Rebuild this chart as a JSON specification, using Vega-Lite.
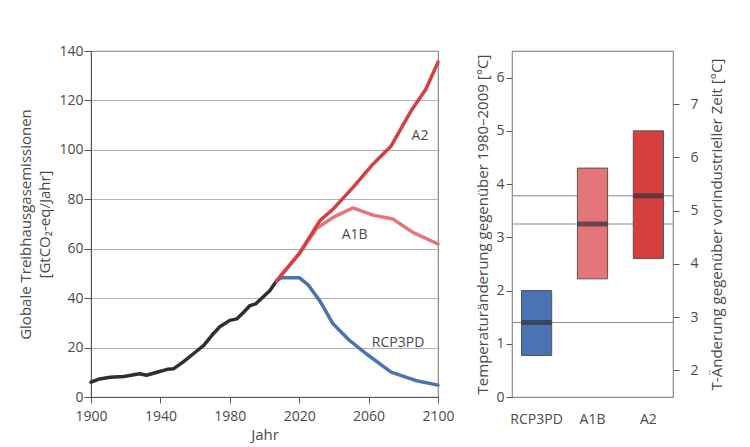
{
  "$schema": "https://vega.github.io/schema/vega-lite/v6.json",
  "padding": {"left": 18, "top": 43, "right": 2, "bottom": 2},
  "spacing": 20,
  "background": "white",
  "config": {
    "font": "Open Sans",
    "view": {"stroke": "#8a8a8a", "strokeWidth": 1.2},
    "axis": {
      "labelFont": "Open Sans", "titleFont": "Open Sans",
      "labelFontSize": 14, "titleFontSize": 15,
      "labelColor": "#4a4a4a", "titleColor": "#4a4a4a",
      "titleFontWeight": "normal",
      "tickColor": "#555", "domainColor": "#555", "gridColor": "#9a9a9a", "gridWidth": 0.8
    }
  },
  "hconcat": [
    {
      "width": 347,
      "height": 346,
      "data": {"values": [
        {"year": 1900, "value": 6.0, "series": "Hist"},
        {"year": 1905, "value": 7.3, "series": "Hist"},
        {"year": 1911, "value": 8.0, "series": "Hist"},
        {"year": 1919, "value": 8.3, "series": "Hist"},
        {"year": 1928, "value": 9.4, "series": "Hist"},
        {"year": 1932, "value": 8.8, "series": "Hist"},
        {"year": 1938, "value": 10.0, "series": "Hist"},
        {"year": 1944, "value": 11.2, "series": "Hist"},
        {"year": 1947.5, "value": 11.4, "series": "Hist"},
        {"year": 1953, "value": 14.1, "series": "Hist"},
        {"year": 1959, "value": 17.5, "series": "Hist"},
        {"year": 1965, "value": 20.9, "series": "Hist"},
        {"year": 1970.5, "value": 25.6, "series": "Hist"},
        {"year": 1974, "value": 28.3, "series": "Hist"},
        {"year": 1980, "value": 31.0, "series": "Hist"},
        {"year": 1984, "value": 31.6, "series": "Hist"},
        {"year": 1988, "value": 34.3, "series": "Hist"},
        {"year": 1991.6, "value": 37.0, "series": "Hist"},
        {"year": 1995, "value": 37.7, "series": "Hist"},
        {"year": 1999, "value": 40.4, "series": "Hist"},
        {"year": 2003, "value": 43.0, "series": "Hist"},
        {"year": 2007, "value": 47.0, "series": "Hist"},
        {"year": 2007, "value": 47.0, "series": "RCP3PD"},
        {"year": 2010, "value": 48.3, "series": "RCP3PD"},
        {"year": 2020, "value": 48.3, "series": "RCP3PD"},
        {"year": 2025, "value": 45.5, "series": "RCP3PD"},
        {"year": 2031.8, "value": 39.0, "series": "RCP3PD"},
        {"year": 2039.5, "value": 29.6, "series": "RCP3PD"},
        {"year": 2049, "value": 22.9, "series": "RCP3PD"},
        {"year": 2058.6, "value": 17.5, "series": "RCP3PD"},
        {"year": 2073, "value": 10.1, "series": "RCP3PD"},
        {"year": 2087, "value": 6.7, "series": "RCP3PD"},
        {"year": 2100, "value": 4.8, "series": "RCP3PD"},
        {"year": 2007, "value": 47.0, "series": "A1B"},
        {"year": 2011, "value": 50.5, "series": "A1B"},
        {"year": 2020, "value": 58.0, "series": "A1B"},
        {"year": 2030, "value": 68.2, "series": "A1B"},
        {"year": 2039.5, "value": 72.7, "series": "A1B"},
        {"year": 2051, "value": 76.5, "series": "A1B"},
        {"year": 2062.5, "value": 73.6, "series": "A1B"},
        {"year": 2074, "value": 72.0, "series": "A1B"},
        {"year": 2085.5, "value": 66.6, "series": "A1B"},
        {"year": 2100, "value": 61.9, "series": "A1B"},
        {"year": 2007, "value": 47.0, "series": "A2"},
        {"year": 2020, "value": 58.0, "series": "A2"},
        {"year": 2032, "value": 71.4, "series": "A2"},
        {"year": 2039.5, "value": 76.0, "series": "A2"},
        {"year": 2051, "value": 84.8, "series": "A2"},
        {"year": 2062.5, "value": 94.2, "series": "A2"},
        {"year": 2073, "value": 101.6, "series": "A2"},
        {"year": 2084.5, "value": 115.8, "series": "A2"},
        {"year": 2093, "value": 124.5, "series": "A2"},
        {"year": 2100, "value": 135.5, "series": "A2"}
      ]},
      "layer": [
        {
          "mark": {"type": "line", "strokeWidth": 3.5, "strokeCap": "round", "strokeJoin": "round"},
          "encoding": {
            "x": {"field": "year", "type": "quantitative",
                  "scale": {"domain": [1900, 2100], "nice": false, "zero": false},
                  "axis": {"values": [1900, 1940, 1980, 2020, 2060, 2100], "title": "Jahr", "grid": false, "format": "d", "tickSize": 6, "labelPadding": 6, "titlePadding": 4, "labelFlush": false}},
            "y": {"field": "value", "type": "quantitative",
                  "scale": {"domain": [0, 140], "nice": false},
                  "axis": {"values": [0, 20, 40, 60, 80, 100, 120, 140], "title": ["Globale Treibhausgasemissionen", "[GtCO₂-eq/Jahr]"], "grid": true, "tickSize": 7, "labelPadding": 1, "titlePadding": 6, "titleLineHeight": 19}},
            "color": {"field": "series", "type": "nominal",
                      "scale": {"domain": ["A1B", "A2", "RCP3PD", "Hist"], "range": ["#e4767a", "#d63f40", "#4a73b3", "#2e2e2e"]},
                      "legend": null}
          }
        },
        {
          "data": {"values": [
            {"year": 2089.6, "value": 105.6, "label": "A2"},
            {"year": 2052, "value": 65.5, "label": "A1B"},
            {"year": 2077, "value": 21.8, "label": "RCP3PD"}
          ]},
          "mark": {"type": "text", "font": "Open Sans", "fontSize": 14, "color": "#4a4a4a"},
          "encoding": {
            "x": {"field": "year", "type": "quantitative"},
            "y": {"field": "value", "type": "quantitative"},
            "text": {"field": "label"}
          }
        }
      ]
    },
    {
      "width": 161,
      "height": 346,
      "data": {"values": [
        {"scenario": "RCP3PD", "low": 0.78, "high": 2.0, "median": 1.4},
        {"scenario": "A1B", "low": 2.22, "high": 4.3, "median": 3.25},
        {"scenario": "A2", "low": 2.6, "high": 5.0, "median": 3.78}
      ]},
      "layer": [
        {
          "layer": [
            {
              "mark": {"type": "rule", "color": "#8a8a8a", "strokeWidth": 1},
              "encoding": {
                "y": {"field": "median", "type": "quantitative"}
              }
            },
            {
              "mark": {"type": "bar", "stroke": "#555", "strokeWidth": 1},
              "encoding": {
                "x": {"field": "scenario", "type": "nominal", "sort": ["RCP3PD", "A1B", "A2"],
                      "scale": {"paddingInner": 0.46, "paddingOuter": 0.17},
                      "axis": {"title": null, "ticks": false, "domain": false, "labelAngle": 0, "labelPadding": 15}},
                "y": {"field": "low", "type": "quantitative",
                      "scale": {"domain": [0, 6.5], "nice": false},
                      "axis": {"values": [0, 1, 2, 3, 4, 5, 6], "title": "Temperaturänderung gegenüber 1980–2009 [°C]", "grid": false, "domain": false, "tickSize": 6, "labelPadding": 2, "titlePadding": 5}},
                "y2": {"field": "high"},
                "color": {"field": "scenario", "type": "nominal",
                          "scale": {"domain": ["RCP3PD", "A1B", "A2"], "range": ["#4a72b5", "#e8777c", "#d64346"]},
                          "legend": null}
              }
            },
            {
              "mark": {"type": "tick", "color": "#333", "thickness": 5, "bandSize": 30},
              "encoding": {
                "x": {"field": "scenario", "type": "nominal", "sort": ["RCP3PD", "A1B", "A2"]},
                "y": {"field": "median", "type": "quantitative"}
              }
            }
          ]
        },
        {
          "mark": {"type": "rule", "opacity": 0},
          "encoding": {
            "y": {"field": "median", "type": "quantitative",
                  "scale": {"domain": [1.5, 8.0], "nice": false},
                  "axis": {"orient": "right", "values": [2, 3, 4, 5, 6, 7], "title": "T-Änderung gegenüber vorindustrieller Zeit [°C]", "titleAngle": 270, "titleBaseline": "top", "grid": false, "domain": false, "tickSize": 6, "labelPadding": 11, "titlePadding": 11}}
          }
        }
      ],
      "resolve": {"scale": {"y": "independent"}}
    }
  ]
}
